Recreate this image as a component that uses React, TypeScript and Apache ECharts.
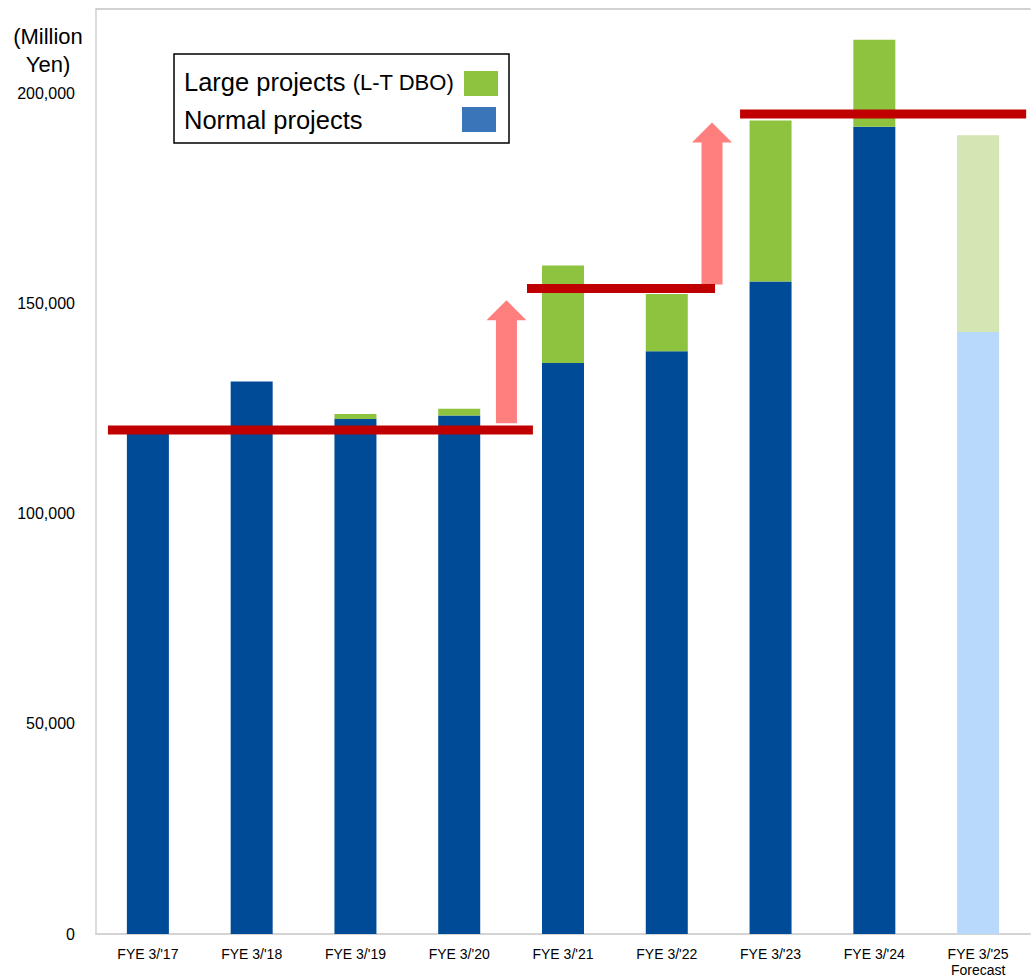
import React, { useEffect, useRef } from "react";
import * as echarts from "echarts";

// Fiscal years on the category axis
const categories = [
  "FYE 3/'17",
  "FYE 3/'18",
  "FYE 3/'19",
  "FYE 3/'20",
  "FYE 3/'21",
  "FYE 3/'22",
  "FYE 3/'23",
  "FYE 3/'24",
  "FYE 3/'25\nForecast",
];

// Orders received, million yen
const normalProjects = [119500, 131400, 122500, 123300, 135800, 138600, 155200, 192000, 143200];
const largeProjects = [0, 0, 1200, 1600, 23200, 13600, 38300, 20700, 46800];

// Y-axis ticks
const yTicks = [0, 50000, 100000, 150000, 200000];
const yMax = 220000;

// Level bands: [from category position, to category position, level]
const levels = [
  [-0.385, 3.71, 119900],
  [3.653, 5.465, 153500],
  [5.706, 8.463, 195000],
];

// Step-up arrows: [category position, from value, to value]
const stepArrows = [
  [3.455, 121500, 150750],
  [5.436, 154500, 193000],
];

const FONT = "'Liberation Sans', Arial, sans-serif";
const C_BLUE = "#004b98";
const C_GREEN = "#8dc33f";
const C_BLUE_FC = "#b8d8fc";
const C_GREEN_FC = "#d3e6b3";
const C_RED = "#c00000";
const C_PINK = "#ff7f7f";

export default function App() {
  const ref = useRef<HTMLDivElement>(null);

  useEffect(() => {
    document.body.style.margin = "0";
    const chart = echarts.init(ref.current!, null, { renderer: "svg" });
    const last = categories.length - 1;

    const option: any = {
      animation: false,
      backgroundColor: "#fff",
      textStyle: { fontFamily: FONT },
      grid: { left: 96, right: 3, top: 9, bottom: 43, containLabel: false },
      xAxis: [
        {
          type: "category",
          data: categories,
          axisLine: { show: true, onZero: false, lineStyle: { color: "#d4d4d4", width: 2 } },
          axisTick: { show: false },
          axisLabel: {
            color: "#000",
            fontSize: 14,
            fontFamily: FONT,
            margin: 12,
            lineHeight: 16,
            interval: 0,
          },
        },
        {
          type: "value",
          position: "top",
          min: -0.5,
          max: categories.length - 0.5,
          axisLine: { show: true, onZero: false, lineStyle: { color: "#c4c4c4", width: 1.5 } },
          axisTick: { show: false },
          axisLabel: { show: false },
          splitLine: { show: false },
        },
      ],
      yAxis: {
        type: "value",
        min: 0,
        max: yMax,
        interval: 50000,
        axisLine: { show: true, onZero: false, lineStyle: { color: "#d0d0d0", width: 1.5 } },
        axisTick: { show: false },
        splitLine: { show: false },
        axisLabel: {
          color: "#000",
          fontSize: 16,
          fontFamily: FONT,
          margin: 21,
          formatter: (v: number) =>
            yTicks.includes(v) ? v.toLocaleString("en-US") : "",
        },
      },
      series: [
        {
          type: "bar",
          stack: "total",
          barWidth: 42,
          data: normalProjects.map((v, i) =>
            i === last ? { value: v, itemStyle: { color: C_BLUE_FC } } : v
          ),
          itemStyle: { color: C_BLUE },
        },
        {
          type: "bar",
          stack: "total",
          barWidth: 42,
          data: largeProjects.map((v, i) =>
            i === last ? { value: v, itemStyle: { color: C_GREEN_FC } } : v
          ),
          itemStyle: { color: C_GREEN },
        },
        {
          type: "custom",
          xAxisIndex: 1,
          z: 5,
          encode: { x: [0, 1], y: 2 },
          data: levels,
          renderItem: (params: any, api: any) => {
            const p1 = api.coord([api.value(0), api.value(2)]);
            const p2 = api.coord([api.value(1), api.value(2)]);
            return {
              type: "rect",
              shape: { x: p1[0], y: p1[1] - 4.5, width: p2[0] - p1[0], height: 9 },
              style: { fill: C_RED },
            };
          },
        },
        {
          type: "custom",
          xAxisIndex: 1,
          z: 4,
          encode: { x: 0, y: [1, 2] },
          data: stepArrows,
          renderItem: (params: any, api: any) => {
            const base = api.coord([api.value(0), api.value(1)]);
            const tip = api.coord([api.value(0), api.value(2)]);
            const cx = base[0];
            const shaft = 10.5;
            const head = 20;
            const headH = 20;
            const hb = tip[1] + headH;
            return {
              type: "polygon",
              shape: {
                points: [
                  [cx - shaft, base[1]],
                  [cx - shaft, hb],
                  [cx - head, hb],
                  [cx, tip[1]],
                  [cx + head, hb],
                  [cx + shaft, hb],
                  [cx + shaft, base[1]],
                ],
              },
              style: { fill: C_PINK },
            };
          },
        },
      ],
      graphic: [
        {
          type: "text",
          x: 48,
          y: 22,
          style: {
            text: "(Million\nYen)",
            fontSize: 22,
            lineHeight: 28,
            fontFamily: FONT,
            fill: "#000",
            align: "center",
          },
        },
        {
          type: "group",
          z: 10,
          children: [
            {
              type: "rect",
              shape: { x: 174, y: 54, width: 335, height: 89 },
              style: { fill: "#fff", stroke: "#000", lineWidth: 1.5 },
            },
            {
              type: "text",
              x: 184,
              y: 82,
              style: {
                text: "{a|Large projects }{b|(L-T DBO)}",
                verticalAlign: "middle",
                rich: {
                  a: { fontSize: 25.5, fontFamily: FONT, fill: "#000" },
                  b: { fontSize: 22, fontFamily: FONT, fill: "#000" },
                },
              },
            },
            {
              type: "text",
              x: 184,
              y: 120,
              style: {
                text: "Normal projects",
                fontSize: 25.5,
                fontFamily: FONT,
                fill: "#000",
                verticalAlign: "middle",
              },
            },
            {
              type: "rect",
              shape: { x: 464, y: 71, width: 34, height: 25 },
              style: { fill: C_GREEN },
            },
            {
              type: "rect",
              shape: { x: 462, y: 107, width: 34, height: 25 },
              style: { fill: "#3b75b9" },
            },
          ],
        },
      ],
    };

    chart.setOption(option);
    return () => chart.dispose();
  }, []);

  return <div ref={ref} style={{ width: 1033, height: 978 }} />;
}
